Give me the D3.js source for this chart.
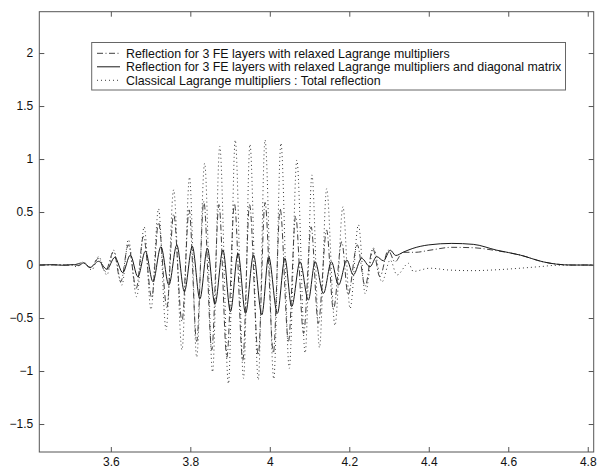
<!DOCTYPE html>
<html>
<head>
<meta charset="UTF-8">
<style>
    body { margin: 0; background: #fff; }
    svg { display: block; font-family: "Liberation Sans", Arial, sans-serif; }
    .axis text { font-size: 12px; fill: #111; }
    .axis path, .axis line { stroke: #555; }
    .legend text { font-size: 12.4px; fill: #111; }
</style>
</head>
<body>
<svg width="597" height="469"></svg>
<script src="https://d3js.org/d3.v7.min.js"></script>
<script>

    // axis ticks as printed
    const xTicks = [3.6, 3.8, 4, 4.2, 4.4, 4.6, 4.8];
    const xTickLabels = ["3.6", "3.8", "4", "4.2", "4.4", "4.6", "4.8"];
    const yTicks = [-1.5, -1, -0.5, 0, 0.5, 1, 1.5, 2];
    const yTickLabels = ["\u22121.5", "\u22121", "\u22120.5", "0", "0.5", "1", "1.5", "2"];
    const xLim = [3.42, 4.815];
    const yLim = [-1.764, 2.39];

    const legendLabels = [
        "Reflection for 3 FE layers with relaxed Lagrange multipliers",
        "Reflection for 3 FE layers with relaxed Lagrange multipliers and diagonal matrix",
        "Classical Lagrange multipliers : Total reflection"
    ];

    // [x, y]: peaks and troughs of each curve
    const relaxed = [[3.420,0],[3.460,0.002],[3.500,-0.002],[3.531,0.022],[3.548,-0.025],[3.569,0.063],
        [3.586,-0.063],[3.607,0.126],[3.625,-0.157],[3.644,0.19],[3.664,-0.22],[3.682,0.27],[3.703,-0.31],
        [3.720,0.40],[3.741,-0.40],[3.758,0.48],[3.779,-0.53],[3.797,0.52],[3.816,-0.72],[3.834,0.60],
        [3.854,-0.80],[3.872,0.57],[3.892,-0.87],[3.911,0.58],[3.932,-0.90],[3.949,0.57],[3.971,-0.85],
        [3.988,0.59],[4.009,-0.83],[4.026,0.53],[4.047,-0.72],[4.065,0.46],[4.085,-0.645],[4.104,0.36],
        [4.122,-0.55],[4.143,0.33],[4.160,-0.42],[4.181,0.22],[4.197,-0.28],[4.220,0.19],[4.240,-0.20],
        [4.259,0.157],[4.277,-0.11],[4.298,0.14],[4.315,0.03],[4.335,0.12],[4.366,0.12],[4.403,0.14],
        [4.458,0.167],[4.512,0.163],[4.571,0.135],[4.630,0.094],[4.688,0.03],[4.722,0.008],[4.760,0],[4.815,0]];

    const diagonal = [[3.420,0],[3.450,0.003],[3.480,-0.002],[3.505,0.004],[3.520,-0.003],[3.531,0.020],
        [3.548,-0.022],[3.569,0.035],[3.590,-0.040],[3.610,0.072],[3.630,-0.072],[3.649,0.094],[3.668,-0.110],
        [3.687,0.130],[3.706,-0.157],[3.726,0.173],[3.746,-0.189],[3.766,0.189],[3.785,-0.250],[3.805,0.176],
        [3.824,-0.320],[3.843,0.157],[3.862,-0.370],[3.882,0.142],[3.901,-0.440],[3.920,0.110],[3.939,-0.456],
        [3.959,0.094],[3.980,-0.470],[3.997,0.079],[4.019,-0.456],[4.038,0.063],[4.055,-0.393],[4.076,0.031],
        [4.097,-0.330],[4.114,0.031],[4.135,-0.267],[4.155,0.031],[4.173,-0.189],[4.194,0.047],[4.210,-0.094],
        [4.231,0.063],[4.252,-0.016],[4.269,0.079],[4.286,0.040],[4.303,0.140],[4.317,0.090],[4.335,0.120],
        [4.360,0.157],[4.400,0.190],[4.458,0.204],[4.512,0.195],[4.571,0.140],[4.630,0.094],[4.688,0.030],
        [4.722,0.008],[4.760,0],[4.815,0]];

    const classical = [[3.420,0],[3.470,0.002],[3.500,0.003],[3.514,-0.016],[3.531,0.03],[3.552,-0.047],
        [3.569,0.08],[3.590,-0.094],[3.607,0.14],[3.628,-0.19],[3.644,0.24],[3.665,-0.30],[3.684,0.36],
        [3.701,-0.42],[3.720,0.53],[3.739,-0.61],[3.758,0.71],[3.779,-0.80],[3.798,0.83],[3.816,-0.87],
        [3.836,0.96],[3.856,-1.01],[3.874,1.12],[3.896,-1.12],[3.913,1.18],[3.934,-1.07],[3.950,1.14],
        [3.971,-1.085],[3.988,1.18],[4.010,-1.075],[4.028,1.15],[4.049,-0.975],[4.068,0.99],[4.089,-0.83],
        [4.106,0.85],[4.125,-0.78],[4.143,0.72],[4.164,-0.57],[4.184,0.55],[4.202,-0.41],[4.223,0.38],
        [4.240,-0.27],[4.261,0.16],[4.282,-0.16],[4.303,0.047],[4.320,-0.094],[4.349,0.016],[4.361,-0.06],
        [4.403,-0.03],[4.450,-0.047],[4.510,-0.053],[4.570,-0.045],[4.630,-0.03],[4.680,-0.015],[4.720,-0.003],
        [4.815,0]];

    const box = { left: 39.3, right: 593.7, top: 11.7, bottom: 452 };

    let svg = d3.select("svg");

    let x = d3.scaleLinear().domain(xLim).range([box.left, box.right]);
    let y = d3.scaleLinear().domain(yLim).range([box.bottom, box.top]);

    // line styles, matlab-ish
    const styles = [
        { data: relaxed, dash: "6,2.5,1,2.5", color: "#2a2a2a", width: 0.9 },
        { data: diagonal, dash: null, color: "#1a1a1a", width: 1 },
        { data: classical, dash: "1,3", color: "#3a3a3a", width: 1 }
    ];

    svg.append("defs").append("clipPath").attr("id", "clip")
        .append("rect")
        .attr("x", box.left).attr("y", box.top)
        .attr("width", box.right - box.left).attr("height", box.bottom - box.top);

    let line = d3.line()
        .x(d => x(d[0]))
        .y(d => y(d[1]))
        .curve(d3.curveMonotoneX);

    svg.append("g")
        .attr("clip-path", "url(#clip)")
        .selectAll("path")
        .data(styles)
        .enter()
        .append("path")
        .attr("d", d => line(d.data))
        .attr("fill", "none")
        .attr("stroke", d => d.color)
        .attr("stroke-width", d => d.width)
        .attr("stroke-dasharray", d => d.dash);

    // axes with inward ticks on all four sides
    svg.append("g").attr("class", "axis")
        .attr("transform", "translate(0," + box.bottom + ")")
        .call(d3.axisBottom(x).tickValues(xTicks).tickSizeInner(-5).tickSizeOuter(0).tickPadding(5)
            .tickFormat((d, i) => xTickLabels[i]));
    svg.append("g").attr("class", "axis")
        .attr("transform", "translate(0," + box.top + ")")
        .call(d3.axisTop(x).tickValues(xTicks).tickSizeInner(-5).tickSizeOuter(0).tickFormat(""));
    svg.append("g").attr("class", "axis")
        .attr("transform", "translate(" + box.left + ",0)")
        .call(d3.axisLeft(y).tickValues(yTicks).tickSizeInner(-5).tickSizeOuter(0).tickPadding(6)
            .tickFormat((d, i) => yTickLabels[i]));
    svg.append("g").attr("class", "axis")
        .attr("transform", "translate(" + box.right + ",0)")
        .call(d3.axisRight(y).tickValues(yTicks).tickSizeInner(-5).tickSizeOuter(0).tickFormat(""));

    svg.selectAll(".axis .domain").remove();

    svg.append("rect")
        .attr("x", box.left).attr("y", box.top)
        .attr("width", box.right - box.left).attr("height", box.bottom - box.top)
        .attr("fill", "none").attr("stroke", "#555").attr("stroke-width", 1);

    // legend
    let legend = svg.append("g").attr("class", "legend");
    legend.append("rect")
        .attr("x", 91.7).attr("y", 42.5)
        .attr("width", 565.5 - 91.7).attr("height", 47.5)
        .attr("fill", "#fff").attr("stroke", "#666").attr("stroke-width", 1);

    let rows = legend.selectAll(".row")
        .data(styles)
        .enter()
        .append("g")
        .attr("class", "row")
        .attr("transform", (d, i) => "translate(0," + (53.3 + i * 13.5) + ")");

    rows.append("line")
        .attr("x1", 97).attr("x2", 120)
        .attr("stroke", d => d.color)
        .attr("stroke-width", d => d.width)
        .attr("stroke-dasharray", d => d.dash);

    rows.append("text")
        .attr("x", 126)
        .attr("dy", "0.35em")
        .text((d, i) => legendLabels[i]);

</script>
</body>
</html>
